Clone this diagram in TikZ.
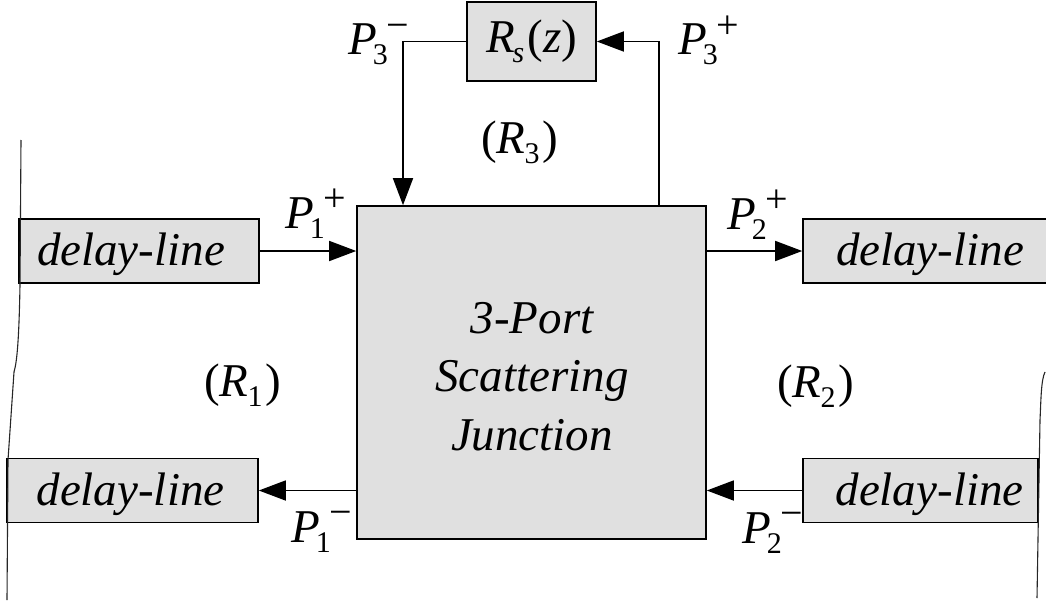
\documentclass[tikz,border=0pt]{standalone}
\usepackage{fontspec}
\setmainfont{Liberation Serif}
\usetikzlibrary{arrows.meta}
\definecolor{boxgray}{RGB}{224,224,224}
\newcommand\bigsz{\fontsize{47}{58.5}\selectfont}
\newcommand\subsz{\fontsize{30}{30}\selectfont}
\newcommand\sgnsz{\fontsize{40}{40}\selectfont}
\newcommand\Plab[2]{\textit{P}\kern-4pt\raisebox{-10pt}{\subsz #1}\kern-1pt\raisebox{17pt}{\sgnsz #2}}
\newcommand\Rlab[1]{(\textit{R}\kern-1pt\raisebox{-10pt}{\subsz #1}\kern3pt)}
\begin{document}
\begin{tikzpicture}[x=1pt,y=-1pt,
  blk/.style={draw, line width=1.6pt, fill=boxgray, inner sep=0pt, font=\bigsz\itshape},
  dlbox/.style={blk, minimum height=64pt, text height=37pt, text depth=8pt},
  arr/.style={line width=1.6pt, -{Triangle[length=27pt,width=20pt]}},
  lab/.style={inner sep=0pt, anchor=base west, font=\bigsz},
  edge/.style={line width=1.1pt, black!85}]
\useasboundingbox (0,0) rectangle (1046,602);
% main junction
\node[blk, minimum width=349pt, minimum height=333pt] (sj) at (531.5,372.5) {};
\node[inner sep=0pt, align=center, font=\bigsz\itshape] (sjtext) at (532,376.5)
  {3-Port\\Scattering\\Junction};
% reflectance filter
\node[blk, minimum width=129pt, minimum height=79pt, font=\bigsz] (rs) at (531.5,41.5)
  {\textit{R}\kern-2pt\raisebox{-10pt}{\subsz\textit{s}}\kern3pt(\textit{z})};
% delay lines
\node[dlbox, minimum width=240pt] (dl1) at (139,251) {\hspace{-16pt}delay-line};
\node[dlbox, minimum width=251pt] (dl2) at (132.5,490.5) {\hspace{-4pt}delay-line};
\node[dlbox, minimum width=244pt] (dr1) at (925,251) {\hspace{10pt}delay-line};
\node[dlbox, minimum width=235pt] (dr2) at (920.5,490.5) {\hspace{18pt}delay-line};
% connectors
\draw[arr] (dl1.east) -- (sj.west |- dl1.east);
\draw[arr] (sj.west |- dl2.east) -- (dl2.east);
\draw[arr] (sj.east |- dr1.west) -- (dr1.west);
\draw[arr] (dr2.west) -- (sj.east |- dr2.west);
\coordinate (fbL) at (403,206);
\coordinate (fbR) at (659,206);
\draw[arr] (rs.west) -| (sj.north -| fbL);
\draw[arr] (sj.north -| fbR) |- (rs.east);
% labels
\node[lab] (p1p) at (285,228) {\Plab{1}{+}};
\node[lab] (p2p) at (727,229) {\Plab{2}{+}};
\node[lab] (p1m) at (291,542) {\Plab{1}{−}};
\node[lab] (p2m) at (742,543) {\Plab{2}{−}};
\node[lab] (p3m) at (348,55) {\Plab{3}{−}};
\node[lab] (p3p) at (678,55) {\Plab{3}{+}};
\node[lab] (r3) at (481,153) {\Rlab{3}};
\node[lab] (r1) at (204,396) {\Rlab{1}};
\node[lab] (r2) at (777,397) {\Rlab{2}};
% boundary lines
\draw[edge] (21,140) -- (20,285) .. controls (19,340) and (17,362) .. (14,372) -- (8,460) -- (7,600);
\draw[edge] (1045,372) .. controls (1041,380) and (1041,400) .. (1040,420) -- (1037,598);
\end{tikzpicture}
\end{document}
